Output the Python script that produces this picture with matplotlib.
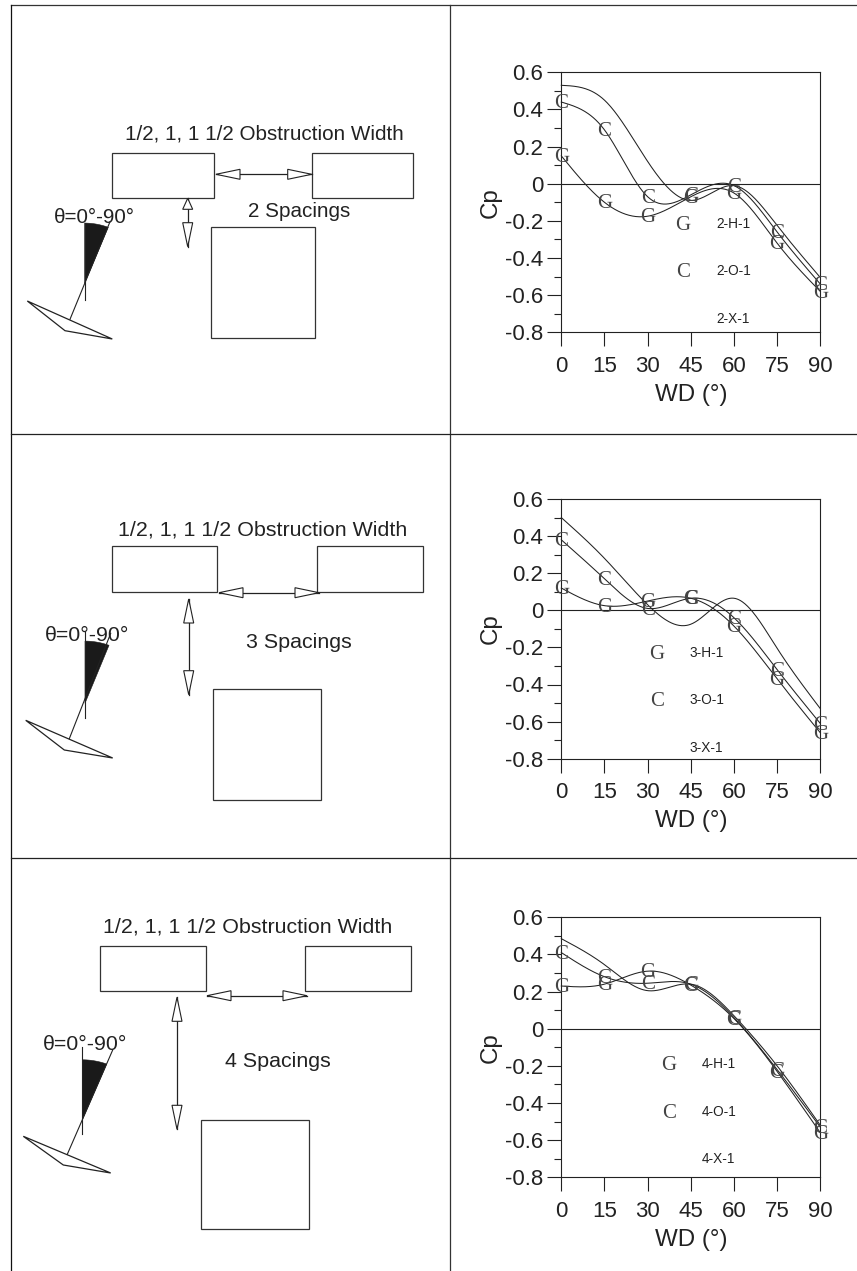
import numpy as np
import matplotlib
matplotlib.use('Agg')
import matplotlib.pyplot as plt
from matplotlib.patches import Polygon, Rectangle
from matplotlib.ticker import MultipleLocator

plt.rcParams['font.family'] = ['Liberation Sans', 'DejaVu Sans']

WD = [0, 15, 30, 45, 60, 75, 90]
WD_TICKS = [0, 15, 30, 45, 60, 75, 90]
CP_TICKS = [0.6, 0.4, 0.2, 0, -0.2, -0.4, -0.6, -0.8]
CP_LABELS = ['0.6', '0.4', '0.2', '0', '-0.2', '-0.4', '-0.6', '-0.8']

# spacing 2
h_2 = [0.15, -0.10, -0.175, -0.07, -0.05, -0.32, -0.58]
o_2 = [0.44, 0.29, -0.07, -0.06, -0.01, -0.26, -0.54]
x_2 = [0.53, 0.45, 0.12, -0.09, -0.01, -0.225, -0.505]
# spacing 3
h_3 = [0.12, 0.025, 0.05, 0.065, -0.085, -0.37, -0.66]
o_3 = [0.38, 0.17, 0.01, 0.065, -0.04, -0.32, -0.61]
x_3 = [0.50, 0.28, 0.03, -0.075, 0.065, -0.205, -0.53]
# spacing 4
h_4 = [0.23, 0.24, 0.31, 0.235, 0.055, -0.23, -0.56]
o_4 = [0.41, 0.28, 0.245, 0.24, 0.06, -0.22, -0.53]
x_4 = [0.485, 0.345, 0.205, 0.24, 0.07, -0.20, -0.52]

W, H = 857, 1271
INK = '#222222'


def spline(xs, ys, num=300):
    # natural cubic spline, the curves in the original are smoothed the same way
    xs = np.asarray(xs, float)
    ys = np.asarray(ys, float)
    n = len(xs)
    h = np.diff(xs)
    A = np.zeros((n, n))
    b = np.zeros(n)
    A[0, 0] = A[-1, -1] = 1
    for i in range(1, n - 1):
        A[i, i - 1] = h[i - 1]
        A[i, i] = 2 * (h[i - 1] + h[i])
        A[i, i + 1] = h[i]
        b[i] = 6 * ((ys[i + 1] - ys[i]) / h[i] - (ys[i] - ys[i - 1]) / h[i - 1])
    m = np.linalg.solve(A, b)
    t = np.linspace(xs[0], xs[-1], num)
    k = np.clip(np.searchsorted(xs, t) - 1, 0, n - 2)
    a = xs[k + 1] - t
    c = t - xs[k]
    y = (m[k] * a**3 + m[k + 1] * c**3) / (6 * h[k])
    y += (ys[k] / h[k] - m[k] * h[k] / 6) * a + (ys[k + 1] / h[k] - m[k + 1] * h[k] / 6) * c
    return t, y


def draw_chart(fig, box, h_vals, o_vals, x_vals):
    left, top, right, bottom = box
    ax = fig.add_axes([left / W, 1 - bottom / H, (right - left) / W, (bottom - top) / H])
    ax.patch.set_alpha(0)
    ax.set_xlim(0, 90)
    ax.set_ylim(-0.8, 0.6)
    for vals in (h_vals, o_vals, x_vals):
        t, y = spline(WD, vals)
        ax.plot(t, y, color=INK, lw=0.75, clip_on=False)
    for vals, letter in ((h_vals, 'G'), (o_vals, 'C')):
        for wd, cp in zip(WD, vals):
            ax.annotate(letter, (wd, cp), xytext=(0, -1.2), textcoords='offset points',
                        family='Liberation Serif', fontsize=15, color='#444444',
                        ha='center', va='center', annotation_clip=False)
    ax.axhline(0, color=INK, lw=0.8)
    ax.set_xticks(WD_TICKS)
    ax.set_yticks(CP_TICKS)
    ax.set_yticklabels(CP_LABELS)
    ax.yaxis.set_minor_locator(MultipleLocator(0.1))
    ax.tick_params(axis='both', which='major', length=10, width=0.8, color=INK, labelsize=16, labelcolor=INK)
    ax.tick_params(axis='x', pad=7)
    ax.tick_params(axis='y', pad=3)
    ax.tick_params(axis='y', which='minor', length=5, width=0.8, color=INK)
    for s in ax.spines.values():
        s.set_linewidth(0.8)
        s.set_color(INK)
    ax.set_xlabel('WD (°)', fontsize=17.4, color=INK, labelpad=5)
    ax.set_ylabel('Cp', fontsize=17.4, color=INK)
    ax.yaxis.set_label_coords(-0.228, 0.5)
    return ax


def double_arrow(bg, p0, p1, head=24, half=5, first_head=None):
    p0 = np.array(p0, float)
    p1 = np.array(p1, float)
    d = (p1 - p0) / np.linalg.norm(p1 - p0)
    n = np.array([-d[1], d[0]])
    bg.plot([p0[0], p1[0]], [p0[1], p1[1]], color=INK, lw=0.9)
    for tip, sgn, size in ((p0, 1, first_head or head), (p1, -1, head)):
        base = tip + sgn * d * size
        bg.add_patch(Polygon([tip, base + n * half, base - n * half], closed=True,
                             fc='white', ec=INK, lw=0.8, zorder=3))


def wind_symbol(bg, x0, top, wedge_tr, apex_y, vert_end, slant_top, slant_end, kite):
    bg.plot([x0, x0], [top, vert_end], color=INK, lw=0.8)
    bg.plot([slant_top[0], slant_end[0]], [slant_top[1], slant_end[1]], color=INK, lw=0.8)
    # wedge: arc across the top, then down to the apex
    wedge_top = wedge_tr[1] - 4.2
    ang = np.linspace(0, 1, 12)
    arc_x = x0 + (wedge_tr[0] - x0) * ang
    arc_y = wedge_top + 4.2 * ang**2
    pts = list(zip(arc_x, arc_y)) + [(x0, apex_y)]
    bg.add_patch(Polygon(pts, closed=True, fc='#1a1a1a', ec='#1a1a1a', lw=0.4))
    bg.add_patch(Polygon(kite, closed=True, fc='none', ec=INK, lw=0.9, joinstyle='miter'))


def draw_diagram(bg, rects, h_arrow, v_arrow, texts, symbol, first_head=None, size=15.4):
    for (x0, y0, x1, y1) in rects:
        bg.add_patch(Rectangle((x0, y0), x1 - x0, y1 - y0, fc='none', ec='#333333', lw=0.9))
    double_arrow(bg, *h_arrow)
    double_arrow(bg, *v_arrow, first_head=first_head)
    for (s, x, y) in texts:
        bg.text(x, y, s, fontsize=size, color=INK, ha='left', va='baseline')
    wind_symbol(bg, *symbol)


def legend(bg, marker_x, label_x, rows, tag):
    for y, letter, code in zip(rows, ['G', 'C', None], ['H', 'O', 'X']):
        if letter:
            bg.text(marker_x, y + 1.5, letter, family='Liberation Serif', fontsize=15, color='#444444',
                    ha='center', va='center')
        bg.text(label_x, y, f'{tag}-{code}-1', fontsize=9.8, color=INK, ha='left', va='center')


def main():
    fig = plt.figure(figsize=(W / 100, H / 100), dpi=100)
    bg = fig.add_axes([0, 0, 1, 1])
    bg.set_xlim(0, W)
    bg.set_ylim(H, 0)
    bg.axis('off')

    # panel frame
    bg.plot([11, W], [5, 5], color='#333333', lw=0.9)
    bg.plot([11, 11], [5, H], color='#111111', lw=0.9)
    bg.plot([450.5, 450.5], [5, H], color='#333333', lw=0.9)
    bg.plot([11, W], [433.5, 433.5], color='#222222', lw=0.9)
    bg.plot([11, W], [858, 858], color='#222222', lw=0.9)

    title = '1/2, 1, 1 1/2 Obstruction Width'
    theta = 'θ=0°-90°'

    draw_diagram(
        bg,
        [(112.3, 152.7, 214.3, 198.3), (311.7, 152.7, 413.3, 198.3), (210.7, 227.3, 315.3, 338)],
        ((216, 174.3), (311.7, 174.3)),
        ((187.7, 198.3), (187.7, 246.7)),
        [(title, 125.5, 139.5), ('2 Spacings', 248.3, 216.7), (theta, 54, 222.7)],
        (84.7, 223.3, (108.3, 227.3), 283.3, 300, (110, 221.7), (70, 319.3),
         [(27.3, 301), (112.3, 339), (65, 330.7)]),
        first_head=11, size=14.9,
    )
    draw_diagram(
        bg,
        [(111.7, 546, 217.3, 591.7), (317.3, 546, 423.3, 591.7), (213.3, 688.7, 321.3, 800)],
        ((219, 592.7), (319, 592.7)),
        ((188.7, 599), (188.7, 694.7)),
        [(title, 118.3, 535.7), ('3 Spacings', 246, 648.3), (theta, 45, 640.7)],
        (85, 631.7, (109, 645.3), 703.3, 718.3, (110.7, 633.3), (69.3, 738.7),
         [(25.7, 720.3), (112.7, 758), (64.3, 750)]),
    )
    draw_diagram(
        bg,
        [(100, 946, 205.7, 991), (305.3, 946, 411, 991), (201.3, 1120.3, 309.3, 1228.7)],
        ((207, 995.7), (307, 995.7)),
        ((177, 997.3), (177, 1129.3)),
        [(title, 102.7, 932.7), ('4 Spacings', 225, 1066.7), (theta, 43.3, 1050)],
        (82.3, 1046.7, (106.7, 1064), 1120, 1134.3, (112.7, 1050), (67.3, 1154.3),
         [(23.3, 1136.3), (110.7, 1173), (63.3, 1165)]),
    )

    draw_chart(fig, (561.3, 72.3, 820.3, 332.3), h_2, o_2, x_2)
    draw_chart(fig, (561.3, 499, 820.3, 758.7), h_3, o_3, x_3)
    draw_chart(fig, (561.3, 917.3, 820.3, 1177.3), h_4, o_4, x_4)

    legend(bg, 683, 716, [224, 271, 319], 2)
    legend(bg, 656.7, 690, [652.7, 700, 747.7], 3)
    legend(bg, 669, 701.7, [1063.7, 1111.7, 1159], 4)

    fig.savefig('out.png', dpi=100)


if __name__ == "__main__":
    main()
